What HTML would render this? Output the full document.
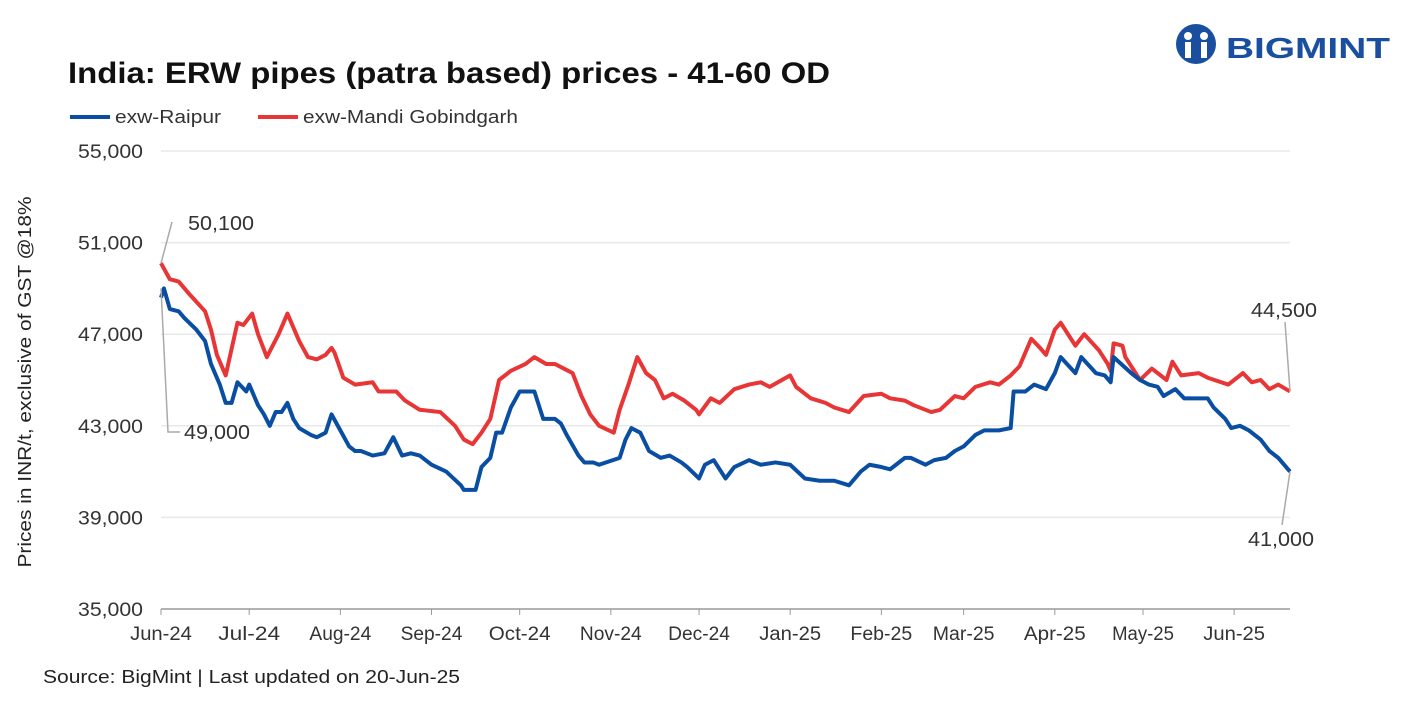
<!DOCTYPE html>
<html><head><meta charset="utf-8"><style>
body{margin:0;background:#fff;font-family:"Liberation Sans",sans-serif;}
svg text{font-family:"Liberation Sans",sans-serif;}
</style></head><body>
<svg id="c" width="1417" height="708" xmlns="http://www.w3.org/2000/svg">
<text x="68" y="83" font-size="30" font-weight="bold" fill="#111" textLength="762" lengthAdjust="spacingAndGlyphs">India: ERW pipes (patra based) prices - 41-60 OD</text>
<g>
<circle cx="1196" cy="44" r="20" fill="#1a4fa0"/>
<circle cx="1188" cy="36" r="4" fill="#fff"/><circle cx="1204" cy="36" r="4" fill="#fff"/>
<rect x="1185" y="42" width="6" height="16" fill="#fff"/><rect x="1201" y="42" width="6" height="16" fill="#fff"/>
<text x="1226" y="58" font-size="29" font-weight="bold" fill="#1a4fa0" textLength="164" lengthAdjust="spacingAndGlyphs">BIGMINT</text>
</g>
<g>
<line x1="70" y1="117" x2="110" y2="117" stroke="#0a4ea3" stroke-width="4"/>
<text x="115" y="123" font-size="18" fill="#333" textLength="106" lengthAdjust="spacingAndGlyphs">exw-Raipur</text>
<line x1="258" y1="117" x2="298" y2="117" stroke="#e83535" stroke-width="4"/>
<text x="303" y="123" font-size="18" fill="#333" textLength="215" lengthAdjust="spacingAndGlyphs">exw-Mandi Gobindgarh</text>
</g>
<text transform="translate(31,382) rotate(-90)" text-anchor="middle" font-size="18" fill="#222" textLength="371" lengthAdjust="spacingAndGlyphs">Prices in INR/t, exclusive of GST @18%</text>
<g id="grid"></g><g id="ticks"></g><g id="lines"></g><g id="ann"></g>
<text x="43" y="683" font-size="18" fill="#222" textLength="417" lengthAdjust="spacingAndGlyphs">Source: BigMint | Last updated on 20-Jun-25</text>
</svg>
<script>
const yTicks=[35000,39000,43000,47000,51000,55000];
const xLabels=["Jun-24","Jul-24","Aug-24","Sep-24","Oct-24","Nov-24","Dec-24","Jan-25","Feb-25","Mar-25","Apr-25","May-25","Jun-25"];
const xLabelDays=[0,30,61,92,122,153,183,214,245,273,304,334,365];
const redDays=[0,3,6,10,15,17,19,22,26,28,31,33,36,40,43,47,50,53,56,58,59,62,66,72,74,80,83,88,95,100,103,106,109,112,115,119,124,127,131,134,137,140,143,146,149,154,156,159,162,165,168,171,174,178,182,183,187,190,195,200,204,207,214,216,221,226,229,234,239,245,248,253,256,262,265,270,273,277,282,285,289,292,296,299,301,304,306,311,314,319,322,323,324,327,328,333,337,342,344,347,353,356,363,368,371,374,377,380,384];
const redVals=[50100,49400,49300,48700,48000,47200,46100,45200,47500,47400,47900,47000,46000,47000,47900,46700,46000,45900,46100,46400,46200,45100,44800,44900,44500,44500,44100,43700,43600,43000,42400,42200,42700,43300,45000,45400,45700,46000,45700,45700,45500,45300,44300,43500,43000,42700,43700,44800,46000,45300,45000,44200,44400,44100,43700,43500,44200,44000,44600,44800,44900,44700,45200,44700,44200,44000,43800,43600,44300,44400,44200,44100,43900,43600,43700,44300,44200,44700,44900,44800,45200,45600,46800,46400,46100,47200,47500,46500,47000,46300,45700,45400,46600,46500,46000,45000,45500,45000,45800,45200,45300,45100,44800,45300,44900,45000,44600,44800,44500];
const blueDays=[0,1,3,6,8,12,15,17,20,22,24,26,29,30,33,35,37,39,41,43,45,47,51,53,56,58,61,64,66,68,72,76,79,82,85,88,92,97,102,103,107,109,112,114,116,119,122,127,130,134,136,138,142,144,147,149,156,158,160,163,166,170,173,177,179,183,185,188,192,195,200,204,209,214,219,224,229,234,238,241,245,248,253,255,260,263,267,270,273,277,280,285,289,290,294,297,301,304,306,311,313,318,321,323,324,330,333,336,339,341,345,348,356,358,362,364,367,370,374,377,380,384];
const blueVals=[48600,49000,48100,48000,47700,47200,46700,45700,44800,44000,44000,44900,44500,44800,43900,43500,43000,43600,43600,44000,43300,42900,42600,42500,42700,43500,42800,42100,41900,41900,41700,41800,42500,41700,41800,41700,41300,41000,40400,40200,40200,41200,41600,42700,42700,43800,44500,44500,43300,43300,43100,42600,41700,41400,41400,41300,41600,42400,42900,42700,41900,41600,41700,41400,41200,40700,41300,41500,40700,41200,41500,41300,41400,41300,40700,40600,40600,40400,41000,41300,41200,41100,41600,41600,41300,41500,41600,41900,42100,42600,42800,42800,42900,44500,44500,44800,44600,45300,46000,45300,46000,45300,45200,44900,46000,45300,45000,44800,44700,44300,44600,44200,44200,43800,43300,42900,43000,42800,42400,41900,41600,41000];
const NS="http://www.w3.org/2000/svg";
const X=d=>161+d*(1290-161)/384;
const Y=v=>609-(v-35000)*(609-151)/20000;
function mk(t,a,p){const e=document.createElementNS(NS,t);for(const k in a)e.setAttribute(k,a[k]);p.appendChild(e);return e;}
const grid=document.getElementById('grid'),ticks=document.getElementById('ticks'),lines=document.getElementById('lines'),ann=document.getElementById('ann');
yTicks.forEach(v=>{
 const l=mk('line',{x1:161,x2:1290,y1:Y(v),y2:Y(v),stroke:v===35000?'#999':'#e8e8e8','stroke-width':1.5},grid);
 
 
 const t=mk('text',{x:143,y:Y(v)+7,'text-anchor':'end','font-size':19,fill:'#333',textLength:65,lengthAdjust:'spacingAndGlyphs'},ticks);
 t.textContent=v.toLocaleString('en-US');
 
 
});
xLabels.forEach((s,i)=>{
 const x=X(xLabelDays[i]);
 const tk=mk('line',{x1:x,x2:x,y1:609,y2:615,stroke:'#999'},ticks);
 
 
 const t=mk('text',{x:x,y:640,'text-anchor':'middle','font-size':19,fill:'#333',textLength:s.length*10.3,lengthAdjust:'spacingAndGlyphs'},ticks);
 t.textContent=s;
 
 
});
function series(days,vals,col,name){
 const p=mk('polyline',{points:days.map((d,i)=>X(d)+','+Y(vals[i])).join(' '),fill:'none',stroke:col,'stroke-width':4,'stroke-linejoin':'round'},lines);
 
 
}
series(redDays,redVals,'#e83535','line-mandi-gobindgarh');
series(blueDays,blueVals,'#0a4ea3','line-raipur');
function note(x1,y1,pts,tx,ty,txt,anchor){
 const p=mk('polyline',{points:[[x1,y1]].concat(pts).map(q=>q.join(',')).join(' '),fill:'none',stroke:'#aaa','stroke-width':1.5},ann);
 
 
 const t=mk('text',{x:tx,y:ty,'font-size':20,fill:'#333','text-anchor':anchor,textLength:66,lengthAdjust:'spacingAndGlyphs'},ann);
 t.textContent=txt;
 
 
}
const r0=redVals[0],b0=blueVals[1],rN=redVals[redVals.length-1],bN=blueVals[blueVals.length-1];
note(X(0),Y(r0),[[172,222]],188,230,r0.toLocaleString('en-US'),'start');
note(X(0),Y(b0),[[168,432],[180,432]],184,439,b0.toLocaleString('en-US'),'start');
note(X(384),Y(rN),[[1285,322]],1317,317,rN.toLocaleString('en-US'),'end');
note(X(384),Y(bN),[[1282,525]],1314,546,bN.toLocaleString('en-US'),'end');
</script>
</body></html>
